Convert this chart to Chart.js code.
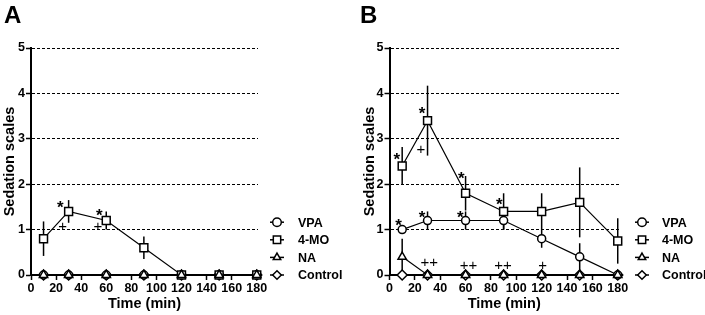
<!DOCTYPE html>
<html>
<head>
<meta charset="utf-8">
<script src="https://cdn.jsdelivr.net/npm/chart.js@4.4.1/dist/chart.umd.min.js"></script>
<style>
  html, body { margin: 0; padding: 0; background: #fff; }
  #wrap { position: relative; width: 705px; height: 315px; overflow: hidden; }
  canvas { position: absolute; top: 0; }
</style>
</head>
<body>
<div id="wrap">
  <canvas id="chartA" width="355" height="315" style="left:0px"></canvas>
  <canvas id="chartB" width="346" height="315" style="left:359px"></canvas>
</div>
<script>
// Tiempos de medición y marcas de los ejes
const times = [10, 30, 60, 90, 120, 150, 180];
const xTicks = [0, 20, 40, 60, 80, 100, 120, 140, 160, 180];
const yTicks = [0, 1, 2, 3, 4, 5];
const seriesNames = ['VPA', '4-MO', 'NA', 'Control'];

// Panel A
const vpaA = [0, 0, 0, 0, 0, 0, 0];
const vpaErrA = [0, 0, 0, 0, 0, 0, 0];
const moA = [0.8, 1.4, 1.2, 0.6, 0, 0, 0];
const moErrA = [0.38, 0.25, 0.2, 0.25, 0, 0, 0];
const naA = [0, 0, 0, 0, 0, 0, 0];
const naErrA = [0, 0, 0, 0, 0, 0, 0];
const ctrlA = [0, 0, 0, 0, 0, 0, 0];
const signifA = [['*', 23.3, 1.58], ['+', 25.2, 1.08], ['*', 54.4, 1.41], ['+', 53.3, 1.08]];

// Panel B
const vpaB = [1.0, 1.2, 1.2, 1.2, 0.8, 0.4, 0];
const vpaErrB = [0, 0.2, 0.2, 0.2, 0.2, 0.3, 0];
const moB = [2.4, 3.4, 1.8, 1.4, 1.4, 1.6, 0.75];
const moErrB = [0.42, 0.77, 0.38, 0.4, 0.4, 0.77, 0.5];
const naB = [0.4, 0, 0, 0, 0, 0, 0];
const naErrB = [0.4, 0, 0, 0, 0, 0, 0];
const ctrlB = [0, 0, 0, 0, 0, 0, 0];
const signifB = [
  ['*', 5.8, 2.64], ['*', 25.6, 3.66], ['+', 24.8, 2.78], ['*', 56.6, 2.23], ['*', 86.6, 1.65],
  ['*', 7.1, 1.19], ['*', 25.6, 1.37], ['*', 55.8, 1.37],
  ['++', 31.3, 0.29], ['++', 62.4, 0.24], ['++', 89.5, 0.24], ['+', 120.8, 0.24]
];

const FONT = "'Liberation Sans', Arial, sans-serif";
const styles = [
  { pointStyle: 'circle', radius: 4, order: 2 },
  { pointStyle: 'rect', radius: 5.6, order: 1 },
  { pointStyle: 'triangle', radius: 4.8, order: 0 },
  { pointStyle: 'rectRot', radius: 5, order: 3 }
];

function makeDataset(i, values, errs) {
  return {
    label: seriesNames[i],
    data: values.map((v, k) => ({ x: times[k], y: v })),
    err: errs,
    borderColor: '#000',
    borderWidth: 1.2,
    pointStyle: styles[i].pointStyle,
    pointRadius: styles[i].radius,
    pointHoverRadius: styles[i].radius,
    pointBackgroundColor: '#fff',
    pointBorderColor: '#000',
    pointBorderWidth: 1.5,
    order: styles[i].order,
    clip: false,
    tension: 0
  };
}

// Barras de error verticales (sin remates)
const errorBars = {
  id: 'errorBars',
  beforeDatasetsDraw(chart) {
    const ctx = chart.ctx, xs = chart.scales.x, ys = chart.scales.y;
    ctx.save();
    ctx.strokeStyle = '#000';
    ctx.lineWidth = 1.5;
    chart.data.datasets.forEach(ds => {
      if (!ds.err) return;
      ds.data.forEach((p, k) => {
        const e = ds.err[k];
        if (!e) return;
        const x = xs.getPixelForValue(p.x);
        ctx.beginPath();
        ctx.moveTo(x, ys.getPixelForValue(p.y + e));
        ctx.lineTo(x, ys.getPixelForValue(Math.max(0, p.y - e)));
        ctx.stroke();
      });
    });
    ctx.restore();
  }
};

// Marcas de significancia (* y +)
const signifMarks = {
  id: 'signifMarks',
  afterDatasetsDraw(chart, args, opts) {
    const ctx = chart.ctx, xs = chart.scales.x, ys = chart.scales.y;
    ctx.save();
    ctx.fillStyle = '#000';
    ctx.textAlign = 'center';
    ctx.textBaseline = 'alphabetic';
    (opts.marks || []).forEach(m => {
      const x = xs.getPixelForValue(m[1]);
      const y = ys.getPixelForValue(m[2]);
      if (m[0] === '*') {
        ctx.font = 'bold 17px ' + FONT;
        ctx.fillText('*', x, y + 0.58 * 17);
      } else {
        ctx.font = '15px ' + FONT;
        ctx.fillText(m[0], x, y + 0.36 * 15);
      }
    });
    ctx.restore();
  }
};

function drawMarker(ctx, style, r, x, y) {
  ctx.beginPath();
  if (style === 'circle') {
    ctx.arc(x, y, r, 0, Math.PI * 2);
  } else if (style === 'rect') {
    const s = r * Math.SQRT1_2;
    ctx.rect(x - s, y - s, 2 * s, 2 * s);
  } else if (style === 'triangle') {
    ctx.moveTo(x, y - r);
    ctx.lineTo(x + r * 0.866, y + r * 0.5);
    ctx.lineTo(x - r * 0.866, y + r * 0.5);
    ctx.closePath();
  } else {
    ctx.moveTo(x, y - r);
    ctx.lineTo(x + r, y);
    ctx.lineTo(x, y + r);
    ctx.lineTo(x - r, y);
    ctx.closePath();
  }
  ctx.fill();
  ctx.stroke();
}

// Leyenda a la derecha y letra del panel
const sideLegend = {
  id: 'sideLegend',
  afterDraw(chart, args, opts) {
    const ctx = chart.ctx, area = chart.chartArea;
    const y0 = chart.scales.y.getPixelForValue(0);
    ctx.save();
    seriesNames.forEach((name, i) => {
      const y = y0 - (3 - i) * 17.6;
      const mx = area.right + opts.markerOffset;
      ctx.strokeStyle = '#000';
      ctx.lineWidth = 1.5;
      ctx.beginPath();
      ctx.moveTo(mx - 7, y);
      ctx.lineTo(mx + 7, y);
      ctx.stroke();
      ctx.fillStyle = '#fff';
      drawMarker(ctx, styles[i].pointStyle, i === 1 ? 5.2 : 4.3, mx, y);
      ctx.fillStyle = '#000';
      ctx.font = 'bold 12.5px ' + FONT;
      ctx.textAlign = 'left';
      ctx.textBaseline = 'middle';
      ctx.fillText(name, area.right + opts.textOffset, y + 1);
    });
    ctx.font = 'bold 24px ' + FONT;
    ctx.textAlign = 'left';
    ctx.textBaseline = 'alphabetic';
    ctx.fillText(opts.letter, opts.letterX, 23);
    ctx.restore();
  }
};

function makePanel(id, datasets, marks, layout) {
  new Chart(document.getElementById(id), {
    type: 'line',
    data: { datasets: datasets },
    options: {
      responsive: false,
      animation: false,
      events: [],
      layout: { padding: { left: 0, right: layout.padRight, top: 48, bottom: 0 } },
      plugins: {
        legend: { display: false },
        tooltip: { enabled: false },
        signifMarks: { marks: marks },
        sideLegend: layout.legend
      },
      scales: {
        x: {
          type: 'linear',
          min: 0,
          max: 181,
          afterBuildTicks: s => { s.ticks = xTicks.map(v => ({ value: v })); },
          afterFit: s => { s.height = 40; },
          grid: { drawOnChartArea: false, drawTicks: true, tickLength: 5, tickWidth: 1.5, tickColor: '#000' },
          border: { display: true, color: '#000', width: 2 },
          ticks: { color: '#000', padding: 1, maxRotation: 0, font: { family: FONT, size: 12.5, weight: 'bold' } },
          title: { display: true, text: 'Time (min)', color: '#000', padding: { top: 0, bottom: 2.6 },
                   font: { family: FONT, size: 14.5, weight: 'bold' } }
        },
        y: {
          type: 'linear',
          min: 0,
          max: 5,
          afterBuildTicks: s => { s.ticks = yTicks.map(v => ({ value: v })); },
          afterFit: s => { s.width = layout.yWidth; },
          grid: {
            color: c => (c.tick && c.tick.value === 0) ? 'rgba(0,0,0,0)' : '#000',
            lineWidth: 1,
            tickLength: 5,
            tickWidth: 1.5,
            tickColor: '#000',
            tickBorderDash: []
          },
          border: { display: true, color: '#000', width: 2, dash: [3, 2] },
          ticks: { color: '#000', padding: 1, font: { family: FONT, size: 12.5, weight: 'bold' } },
          title: { display: true, text: 'Sedation scales', color: '#000', padding: { top: layout.titlePad, bottom: 0 },
                   font: { family: FONT, size: 14.5, weight: 'bold' } }
        }
      }
    },
    plugins: [errorBars, signifMarks, sideLegend]
  });
}

document.addEventListener('DOMContentLoaded', function() {
  makePanel('chartA', [
    makeDataset(0, vpaA, vpaErrA),
    makeDataset(1, moA, moErrA),
    makeDataset(2, naA, naErrA),
    makeDataset(3, ctrlA, null)
  ], signifA, { padRight: 97, yWidth: 31, titlePad: 1.4,
    legend: { markerOffset: 19, textOffset: 40, letter: 'A', letterX: 4 } });

  makePanel('chartB', [
    makeDataset(0, vpaB, vpaErrB),
    makeDataset(1, moB, moErrB),
    makeDataset(2, naB, naErrB),
    makeDataset(3, ctrlB, null)
  ], signifB, { padRight: 86, yWidth: 30.5, titlePad: 2.4,
    legend: { markerOffset: 23, textOffset: 43, letter: 'B', letterX: 1 } });
});
</script>
</body>
</html>
